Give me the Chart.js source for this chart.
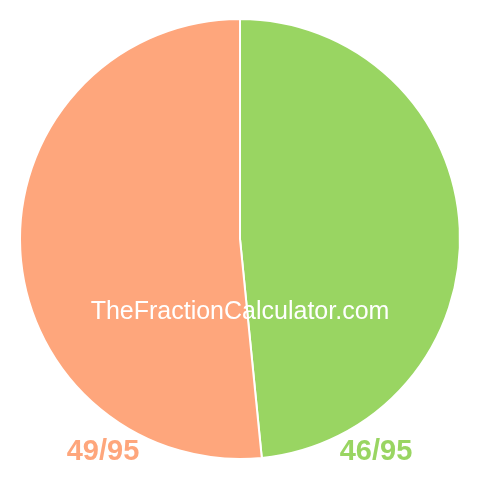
<!DOCTYPE html>
<html>
<head>
<meta charset="utf-8">
<script src="https://cdn.jsdelivr.net/npm/chart.js@4"></script>
<style>
  html, body { margin: 0; padding: 0; background: #fff; }
  #wrap { width: 480px; height: 480px; }
</style>
</head>
<body>
<div id="wrap"><canvas id="pie" width="480" height="480"></canvas></div>
<script>
// slices, clockwise from the top
const labels = ['46/95', '49/95'];
const values = [46, 49];
const colors = ['#99d562', '#fea67c'];

// draws the watermark and the two fraction labels
const textPlugin = {
  id: 'fractionText',
  afterDraw(chart) {
    const ctx = chart.ctx;
    ctx.save();
    ctx.textAlign = 'center';
    ctx.textBaseline = 'alphabetic';
    ctx.fillStyle = '#ffffff';
    ctx.font = '25px "Liberation Sans", Arial, sans-serif';
    ctx.fillText('TheFractionCalculator.com', 240, 319);

    ctx.font = 'bold 29px "Liberation Sans", Arial, sans-serif';
    ctx.fillStyle = colors[1];
    ctx.fillText(labels[1], 103, 460);
    ctx.fillStyle = colors[0];
    ctx.fillText(labels[0], 376, 460);
    ctx.restore();
  }
};

const ctx_pie = document.getElementById('pie').getContext('2d');
const pie = new Chart(ctx_pie, {
  type: 'pie',
  data: {
    labels: labels,
    datasets: [{
      data: values,
      backgroundColor: colors,
      borderColor: '#ffffff',
      borderWidth: 2,
      hoverOffset: 0
    }]
  },
  options: {
    responsive: false,
    animation: false,
    layout: { padding: { top: 18, bottom: 20, left: 19, right: 19 } },
    plugins: {
      legend: { display: false },
      tooltip: { enabled: false }
    }
  },
  plugins: [textPlugin]
});
</script>
</body>
</html>
